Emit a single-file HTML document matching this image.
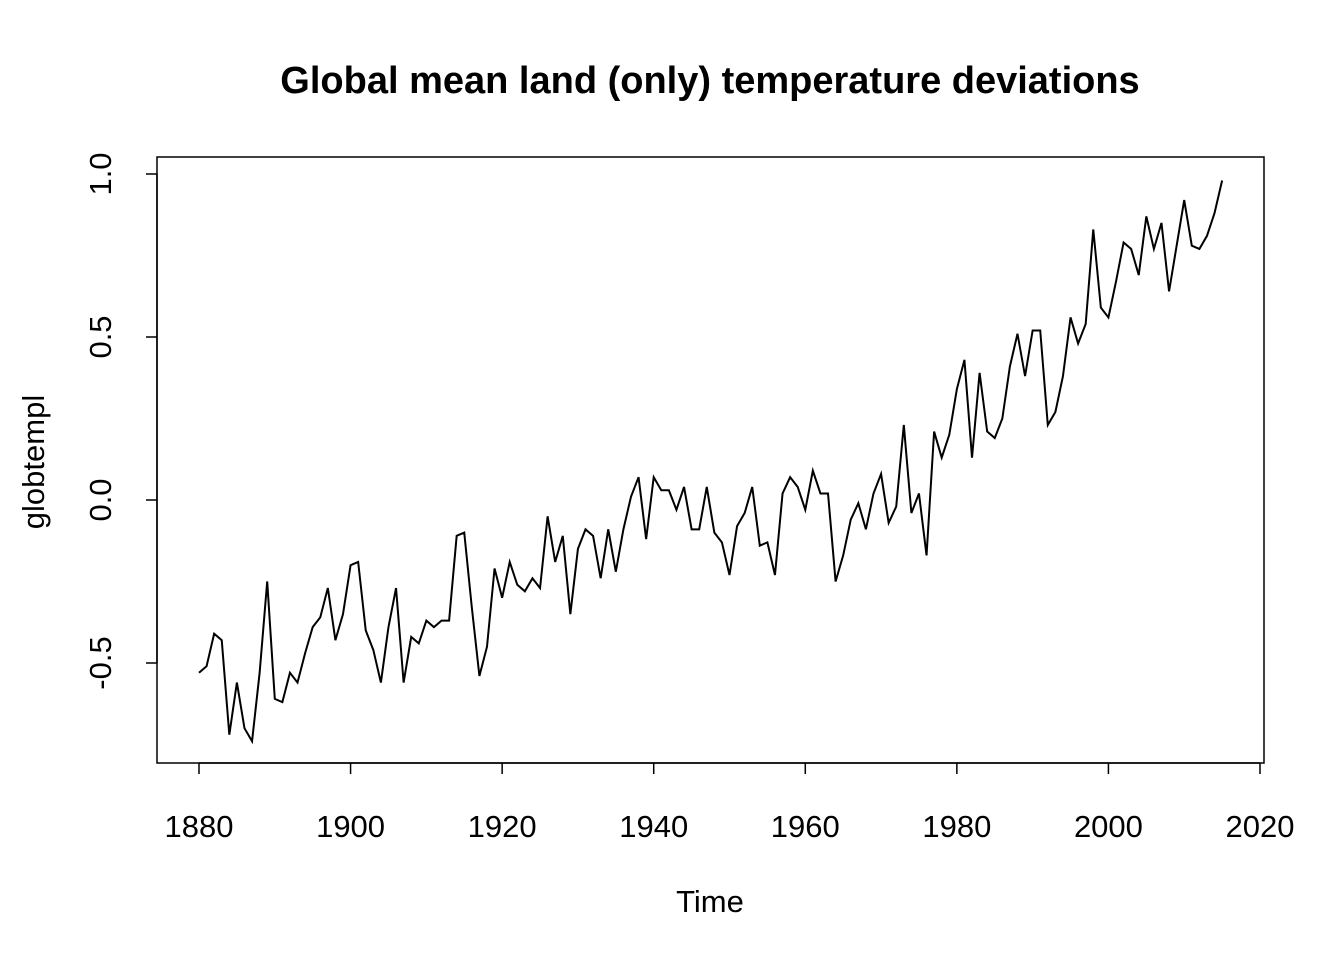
<!DOCTYPE html>
<html><head><meta charset="utf-8"><style>
html,body{margin:0;padding:0;background:#fff;}
svg text{font-family:"Liberation Sans",Arial,sans-serif;fill:#000;}
</style></head><body>
<svg width="1344" height="960" viewBox="0 0 1344 960">
<text x="710" y="93" text-anchor="middle" font-size="38" font-weight="bold">Global mean land (only) temperature deviations</text>
<rect x="157" y="157" width="1107" height="606" fill="none" stroke="#000" stroke-width="1.5"/>
<g id="xaxis"></g>
<g id="yaxis"></g>
<text x="710" y="912" text-anchor="middle" font-size="31">Time</text>
<text transform="translate(44,462) rotate(-90)" text-anchor="middle" font-size="31">globtempl</text>
<path id="series" fill="none" stroke="#000" stroke-width="2"/>
</svg>
<script>
const startYear = 1880;
const values = [-0.53,-0.51,-0.41,-0.43,-0.72,-0.56,-0.70,-0.74,-0.53,-0.25,
-0.61,-0.62,-0.53,-0.56,-0.47,-0.39,-0.36,-0.27,-0.43,-0.35,
-0.20,-0.19,-0.40,-0.46,-0.56,-0.39,-0.27,-0.56,-0.42,-0.44,
-0.37,-0.39,-0.37,-0.37,-0.11,-0.10,-0.33,-0.54,-0.45,-0.21,
-0.30,-0.19,-0.26,-0.28,-0.24,-0.27,-0.05,-0.19,-0.11,-0.35,
-0.15,-0.09,-0.11,-0.24,-0.09,-0.22,-0.09,0.01,0.07,-0.12,
0.07,0.03,0.03,-0.03,0.04,-0.09,-0.09,0.04,-0.10,-0.13,
-0.23,-0.08,-0.04,0.04,-0.14,-0.13,-0.23,0.02,0.07,0.04,
-0.03,0.09,0.02,0.02,-0.25,-0.17,-0.06,-0.01,-0.09,0.02,
0.08,-0.07,-0.02,0.23,-0.04,0.02,-0.17,0.21,0.13,0.20,
0.34,0.43,0.13,0.39,0.21,0.19,0.25,0.41,0.51,0.38,
0.52,0.52,0.23,0.27,0.38,0.56,0.48,0.54,0.83,0.59,
0.56,0.67,0.79,0.77,0.69,0.87,0.77,0.85,0.64,0.78,
0.92,0.78,0.77,0.81,0.88,0.98];
const xTicks = [1880,1900,1920,1940,1960,1980,2000,2020];
const yTicks = [-0.5,0.0,0.5,1.0];
const yTickLabels = ["-0.5","0.0","0.5","1.0"];

const NS = "http://www.w3.org/2000/svg";
function xs(yr){ return 199 + (yr-1880)*(1061/140); }
function ys(v){ return 500 - v*326; }

const xa = document.getElementById('xaxis');
const axl = document.createElementNS(NS,'line');
axl.setAttribute('x1',xs(xTicks[0]));axl.setAttribute('x2',xs(xTicks[xTicks.length-1]));
axl.setAttribute('y1',763);axl.setAttribute('y2',763);axl.setAttribute('stroke','#000');axl.setAttribute('stroke-width','1.5');


xa.appendChild(axl);
xTicks.forEach(t=>{
  const l=document.createElementNS(NS,'line');
  l.setAttribute('x1',xs(t));l.setAttribute('x2',xs(t));l.setAttribute('y1',763);l.setAttribute('y2',774);
  l.setAttribute('stroke','#000');l.setAttribute('stroke-width','1.5');
  
  
  xa.appendChild(l);
  const tx=document.createElementNS(NS,'text');
  tx.setAttribute('x',xs(t));tx.setAttribute('y',837);tx.setAttribute('text-anchor','middle');tx.setAttribute('font-size','31');
  tx.textContent=t;
  
  
  xa.appendChild(tx);
});
const ya = document.getElementById('yaxis');
const ayl = document.createElementNS(NS,'line');
ayl.setAttribute('x1',157);ayl.setAttribute('x2',157);
ayl.setAttribute('y1',ys(yTicks[0]));ayl.setAttribute('y2',ys(yTicks[yTicks.length-1]));
ayl.setAttribute('stroke','#000');ayl.setAttribute('stroke-width','1.5');


ya.appendChild(ayl);
yTicks.forEach((t,i)=>{
  const l=document.createElementNS(NS,'line');
  l.setAttribute('x1',146);l.setAttribute('x2',157);l.setAttribute('y1',ys(t));l.setAttribute('y2',ys(t));
  l.setAttribute('stroke','#000');l.setAttribute('stroke-width','1.5');
  
  
  ya.appendChild(l);
  const tx=document.createElementNS(NS,'text');
  tx.setAttribute('transform','translate(111,'+ys(t)+') rotate(-90)');
  tx.setAttribute('text-anchor','middle');tx.setAttribute('font-size','31');
  tx.textContent=yTickLabels[i];
  
  
  ya.appendChild(tx);
});
let d='';
values.forEach((v,i)=>{ d += (i?'L':'M') + xs(startYear+i).toFixed(2) + ' ' + ys(v).toFixed(2); });
document.getElementById('series').setAttribute('d',d);
</script>
</body></html>
